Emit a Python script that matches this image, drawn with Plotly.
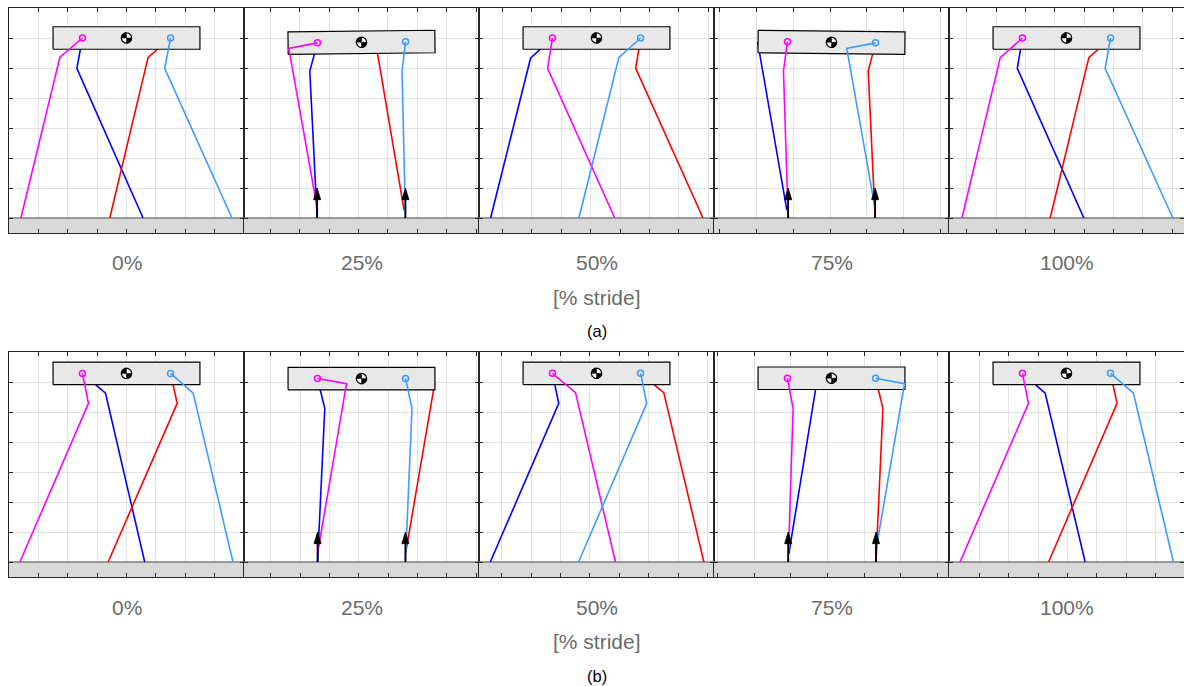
import numpy as np
import plotly.graph_objects as go

W, H = 1184, 686

PHASES = ["0%", "25%", "50%", "75%", "100%"]
XLABEL = "[% stride]"
ROW_TAGS = ["(a)", "(b)"]

# left edge of each panel's window along the walkway, and tick step
A_WINDOW_X0 = [0.0, 0.82, 1.64, 2.46, 3.28]
B_WINDOW_X0 = [0.0, 0.818, 1.645, 2.4775, 3.394]
X_TICK_STEP = [0.2, 0.2, 0.2, 0.25, 0.2]
WINDOW_WIDTH = 1.6
Y_RANGE = [-0.1, 1.4]

# trunk centre height and pitch [deg] at each phase
A_TRUNK_Y = [1.200, 1.171, 1.200, 1.171, 1.200]
A_TRUNK_PITCH = [0.0, 0.65, 0.0, -0.65, 0.0]
B_TRUNK_Y = [1.257, 1.223, 1.258, 1.225, 1.258]
B_TRUNK_PITCH = [0.0, 0.0, 0.0, 0.0, 0.0]

TRUNK_LENGTH = 1.0
TRUNK_HEIGHT = 0.15
HIP_OFFSET = 0.3

# legs: [knee dx, knee y, foot dx, foot y] per phase (dx from trunk centre)
A_HIND_NEAR = [[-0.454, 1.071, -0.719, 0.0], [-0.495, 1.131, -0.299, 0.053],
               [-0.333, 0.998, 0.124, 0.0], [-0.327, 0.980, -0.295, 0.0],
               [-0.451, 1.069, -0.712, 0.0]]
A_HIND_FAR = [[-0.338, 0.998, 0.113, 0.0], [-0.352, 0.980, -0.302, 0.0],
              [-0.449, 1.065, -0.721, 0.0], [-0.502, 1.168, -0.304, 0.053],
              [-0.335, 0.998, 0.118, 0.0]]
A_FORE_FAR = [[0.147, 1.071, -0.114, 0.0], [0.103, 1.131, 0.290, 0.053],
              [0.267, 0.998, 0.725, 0.0], [0.250, 0.980, 0.297, 0.0],
              [0.152, 1.069, -0.111, 0.0]]
A_FORE_NEAR = [[0.260, 0.998, 0.718, 0.0], [0.276, 0.980, 0.299, 0.0],
               [0.152, 1.069, -0.120, 0.0], [0.104, 1.131, 0.299, 0.053],
               [0.263, 0.998, 0.724, 0.0]]

B_HIND_NEAR = [[-0.259, 1.058, -0.726, 0.0], [-0.102, 1.189, -0.299, 0.058],
               [-0.143, 1.129, 0.129, 0.0], [-0.261, 1.025, -0.295, 0.0],
               [-0.259, 1.058, -0.725, 0.0]]
B_HIND_FAR = [[-0.143, 1.125, 0.124, 0.0], [-0.250, 1.025, -0.299, 0.0],
              [-0.257, 1.058, -0.723, 0.0], [-0.102, 1.189, -0.290, 0.058],
              [-0.145, 1.125, 0.127, 0.0]]
B_FORE_FAR = [[0.345, 1.058, -0.125, 0.0], [0.498, 1.189, 0.300, 0.058],
              [0.458, 1.129, 0.731, 0.0], [0.350, 1.025, 0.303, 0.0],
              [0.344, 1.058, -0.122, 0.0]]
B_FORE_NEAR = [[0.454, 1.125, 0.725, 0.0], [0.344, 1.025, 0.299, 0.0],
               [0.342, 1.058, -0.122, 0.0], [0.497, 1.189, 0.299, 0.058],
               [0.456, 1.125, 0.728, 0.0]]

# vertical ground reaction force (scaled) on the stance feet
A_GRF = [0.0, 0.2, 0.0, 0.2, 0.0]
B_GRF = [0.0, 0.2, 0.0, 0.2, 0.0]

COL_HIND_NEAR = "#ff00ff"
COL_HIND_FAR = "#0000ff"
COL_FORE_FAR = "#ff0000"
COL_FORE_NEAR = "#3f9cff"

ROWS = [
    dict(x0=A_WINDOW_X0, ty=A_TRUNK_Y, pitch=A_TRUNK_PITCH, grf=A_GRF,
         legs=[A_HIND_NEAR, A_HIND_FAR, A_FORE_FAR, A_FORE_NEAR]),
    dict(x0=B_WINDOW_X0, ty=B_TRUNK_Y, pitch=B_TRUNK_PITCH, grf=B_GRF,
         legs=[B_HIND_NEAR, B_HIND_FAR, B_FORE_FAR, B_FORE_NEAR]),
]

# pixel layout of the panel grid
PANEL_LEFT = 9
PANEL_W = 235
ROW_TOP = [8, 352]
PANEL_H = 225
LABEL_Y = [[262, 297.5, 331], [607, 641.5, 676]]

# arrow head size in axis units
HEAD_LEN = 0.078
HEAD_HALF_W = 0.024

AXIS_COLOR = "#262626"
GRID_COLOR = "#e2e2e2"

fig = go.Figure()
layout = dict(width=W, height=H, margin=dict(l=0, r=0, t=0, b=0),
              paper_bgcolor="white", plot_bgcolor="white", showlegend=False)
annotations = []


def rot(px, py, ang):
    c, s = np.cos(ang), np.sin(ang)
    return px * c - py * s, px * s + py * c


for r, row in enumerate(ROWS):
    for c in range(5):
        n = r * 5 + c + 1
        xa = "x" if n == 1 else f"x{n}"
        ya = "y" if n == 1 else f"y{n}"
        x0 = row["x0"][c]
        x1 = x0 + WINDOW_WIDTH
        left = PANEL_LEFT + c * PANEL_W
        top = ROW_TOP[r]
        common = dict(showgrid=True, gridcolor=GRID_COLOR, gridwidth=1, zeroline=False,
                      showline=True, linecolor=AXIS_COLOR, linewidth=1, mirror="ticks",
                      ticks="inside", ticklen=4, tickcolor=AXIS_COLOR, tickwidth=1,
                      showticklabels=False, fixedrange=True, tick0=0)
        layout["xaxis" if n == 1 else f"xaxis{n}"] = dict(
            common, range=[x0, x1], dtick=X_TICK_STEP[c], anchor=ya,
            domain=[left / W, min((left + PANEL_W) / W, 1.0)])
        layout["yaxis" if n == 1 else f"yaxis{n}"] = dict(
            common, range=Y_RANGE, dtick=0.2, anchor=xa,
            domain=[1 - (top + PANEL_H) / H, 1 - top / H])

        ax = dict(xaxis=xa, yaxis=ya, hoverinfo="skip")

        # ground strip
        fig.add_trace(go.Scatter(x=[x0 - 0.1, x1 + 0.1, x1 + 0.1, x0 - 0.1],
                                 y=[Y_RANGE[0] - 0.05, Y_RANGE[0] - 0.05, 0, 0],
                                 fill="toself", fillcolor="#d9d9d9", mode="none", **ax))
        fig.add_trace(go.Scatter(x=[x0 - 0.1, x1 + 0.1], y=[0, 0], mode="lines",
                                 line=dict(color="#7d7d7d", width=1.6), **ax))

        xc = x0 + WINDOW_WIDTH / 2
        yc = row["ty"][c]
        ang = np.deg2rad(row["pitch"][c])
        hx, hy = rot(np.array([-HIP_OFFSET, HIP_OFFSET]), np.array([0.0, 0.0]), ang)
        hips = [(xc + hx[0], yc + hy[0]), (xc + hx[1], yc + hy[1])]

        def leg_trace(leg, hip, color, marker):
            k = leg[c]
            xs = [hip[0], xc + k[0], xc + k[2]]
            ys = [hip[1], k[1], k[3]]
            fig.add_trace(go.Scatter(x=xs, y=ys, mode="lines",
                                     line=dict(color=color, width=1.6), **ax))
            if marker:
                fig.add_trace(go.Scatter(x=[hip[0]], y=[hip[1]], mode="markers",
                                         marker=dict(symbol="circle", size=6,
                                                     color="rgba(0,0,0,0)",
                                                     line=dict(color=color, width=1.5)),
                                         **ax))

        hind_near, hind_far, fore_far, fore_near = row["legs"]
        # far-side legs sit behind the trunk
        leg_trace(hind_far, hips[0], COL_HIND_FAR, False)
        leg_trace(fore_far, hips[1], COL_FORE_FAR, False)

        # trunk
        bx = np.array([-1, 1, 1, -1, -1]) * TRUNK_LENGTH / 2
        by = np.array([-1, -1, 1, 1, -1]) * TRUNK_HEIGHT / 2
        rx_, ry_ = rot(bx, by, ang)
        fig.add_trace(go.Scatter(x=xc + rx_, y=yc + ry_, fill="toself",
                                 fillcolor="#e8e8e8", mode="lines",
                                 line=dict(color="black", width=1.2), **ax))

        # centre-of-mass symbol
        rx, ry = 5.2 / 146.9, 5.2 / 150.0
        t = np.linspace(0, 2 * np.pi, 60)
        fig.add_trace(go.Scatter(x=xc + rx * np.cos(t), y=yc + ry * np.sin(t),
                                 fill="toself", fillcolor="white", mode="lines",
                                 line=dict(color="black", width=1.2), **ax))
        for a0 in (np.pi / 2, 3 * np.pi / 2):
            tt = np.linspace(a0, a0 + np.pi / 2, 16)
            fig.add_trace(go.Scatter(x=np.r_[xc, xc + rx * np.cos(tt), xc],
                                     y=np.r_[yc, yc + ry * np.sin(tt), yc],
                                     fill="toself", fillcolor="black", mode="lines",
                                     line=dict(color="black", width=0.5), **ax))

        # near-side legs in front of the trunk
        leg_trace(hind_near, hips[0], COL_HIND_NEAR, True)
        leg_trace(fore_near, hips[1], COL_FORE_NEAR, True)

        # ground reaction force arrows on stance feet
        f = row["grf"][c]
        if f > 0:
            for leg in row["legs"]:
                k = leg[c]
                if k[3] == 0.0:
                    fx = xc + k[2]
                    fig.add_trace(go.Scatter(x=[fx, fx], y=[0, f - HEAD_LEN * 0.6],
                                             mode="lines",
                                             line=dict(color="black", width=1.8), **ax))
                    fig.add_trace(go.Scatter(
                        x=[fx - HEAD_HALF_W, fx + HEAD_HALF_W, fx, fx - HEAD_HALF_W],
                        y=[f - HEAD_LEN, f - HEAD_LEN, f, f - HEAD_LEN],
                        fill="toself", fillcolor="black", mode="lines",
                        line=dict(color="black", width=0.8), **ax))

    # phase labels under the row
    for c in range(5):
        cx = (PANEL_LEFT + c * PANEL_W + PANEL_W / 2) / W
        annotations.append(dict(x=cx, y=1 - LABEL_Y[r][0] / H, xref="paper", yref="paper",
                                text=PHASES[c], showarrow=False, xanchor="center",
                                yanchor="middle",
                                font=dict(family="Liberation Sans, Arial", size=21,
                                          color="#6b6b6b")))
    mid = (PANEL_LEFT + 2 * PANEL_W + PANEL_W / 2) / W
    annotations.append(dict(x=mid, y=1 - LABEL_Y[r][1] / H, xref="paper", yref="paper",
                            text=XLABEL, showarrow=False, xanchor="center", yanchor="middle",
                            font=dict(family="Liberation Sans, Arial", size=21,
                                      color="#6b6b6b")))
    annotations.append(dict(x=mid, y=1 - LABEL_Y[r][2] / H, xref="paper", yref="paper",
                            text=ROW_TAGS[r], showarrow=False, xanchor="center",
                            yanchor="middle",
                            font=dict(family="Liberation Sans, Arial", size=16.5,
                                      color="black")))

layout["annotations"] = annotations
fig.update_layout(**layout)
fig.write_html("out.html")
